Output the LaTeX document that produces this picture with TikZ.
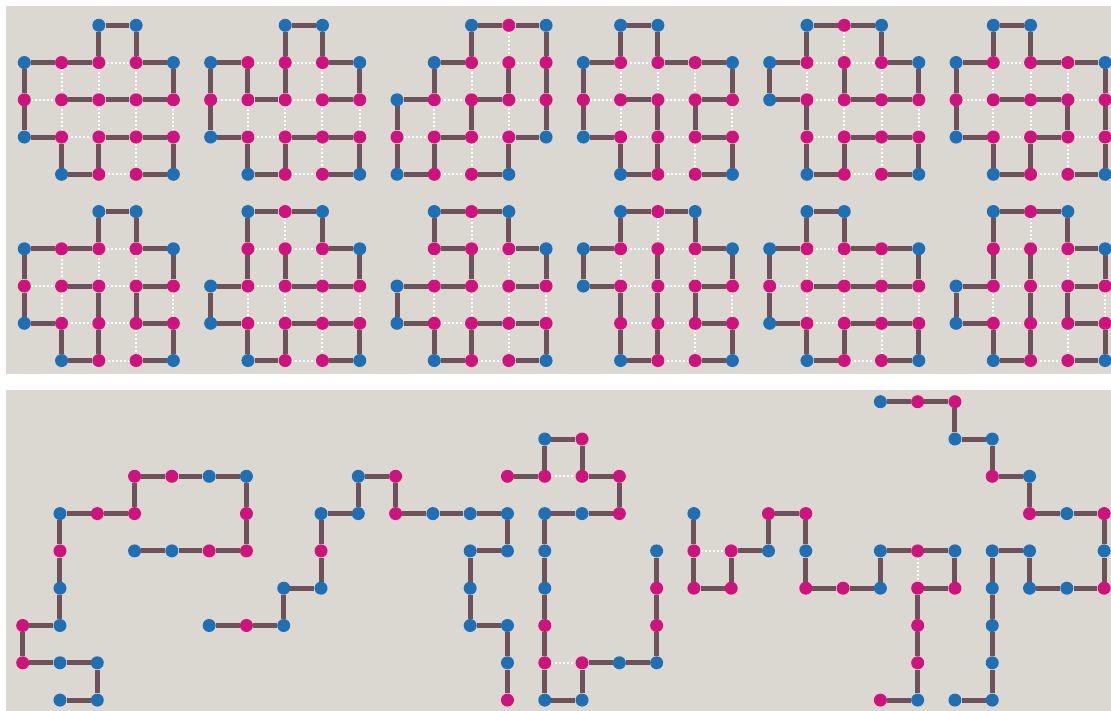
\documentclass[tikz,border=0pt]{standalone}
\usetikzlibrary{backgrounds}
\definecolor{cblue}{RGB}{31,111,181}
\definecolor{cmag}{RGB}{208,18,126}
\definecolor{cbrown}{RGB}{110,82,90}
\definecolor{cpanel}{RGB}{218,216,208}
\pgfdeclarelayer{panel}
\pgfdeclarelayer{dotl}
\pgfdeclarelayer{pathl}
\pgfsetlayers{panel,dotl,pathl,main}
\tikzset{
  dotb/.style={circle, fill=cblue, draw=none, minimum size=13pt, inner sep=0pt},
  dotm/.style={circle, fill=cmag, draw=none, minimum size=13pt, inner sep=0pt},
  pline/.style={draw=cbrown, line width=5pt},
  dotline/.style={draw=white, line width=2pt, dash pattern=on 2pt off 2pt},
}
% shapes: rows r/a/b (row r from col a to b), cols c/a/b (col c from row a to b)
\def\rowsA{0/2/3,1/0/4,2/0/4,3/0/4,4/1/4}
\def\colsA{0/1/3,1/1/4,2/0/4,3/0/4,4/1/4}
\def\rowsB{0/1/3,1/1/4,2/0/4,3/0/4,4/1/4}
\def\colsB{0/2/3,1/0/4,2/0/4,3/0/4,4/1/4}
\def\rowsC{0/2/4,1/1/4,2/0/4,3/0/4,4/0/3}
\def\colsC{0/2/4,1/1/4,2/0/4,3/0/4,4/0/3}
\def\rowsD{0/1/2,1/0/4,2/0/4,3/0/4,4/1/4}
\def\colsD{0/1/3,1/0/4,2/0/4,3/1/4,4/1/4}
\def\rowsE{0/1/3,1/0/4,2/0/4,3/1/4,4/1/4}
\def\colsE{0/1/2,1/0/4,2/0/4,3/0/4,4/1/4}
\newcommand\topfig[6]{%
  \foreach \i/\j/\c in {#4}{%
    \pgfmathsetmacro\px{24.3+37.27*(#2+\i)}%
    \pgfmathsetmacro\py{25.3+37.25*(#3+\j)}%
    \node[dot\c] (#1-\i-\j) at (\px,\py) {};
  }%
  \begin{pgfonlayer}{dotl}
    \foreach \r/\a/\b in #5 {\draw[dotline] (#1-\a-\r) -- (#1-\b-\r);}
    \foreach \q/\a/\b in #6 {\draw[dotline] (#1-\q-\a) -- (#1-\q-\b);}
  \end{pgfonlayer}
  \begin{pgfonlayer}{pathl}
    \foreach \i/\j/\c [count=\k, remember=\i as \pi (initially 0), remember=\j as \pj (initially 0)] in {#4}{%
      \ifnum\k>1 \draw[pline] (#1-\pi-\pj) -- (#1-\i-\j);\fi
    }
  \end{pgfonlayer}
}
\newcommand\botpath[2]{%
  \foreach \i/\j/\c in {#2}{%
    \pgfmathsetmacro\px{22.7+37.29*\i}%
    \pgfmathsetmacro\py{401.7+37.3*\j}%
    \node[dot\c] (#1-\i-\j) at (\px,\py) {};
  }%
  \begin{pgfonlayer}{pathl}
    \foreach \i/\j/\c [count=\k, remember=\i as \pi (initially 0), remember=\j as \pj (initially 0)] in {#2}{%
      \ifnum\k>1 \draw[pline] (#1-\pi-\pj) -- (#1-\i-\j);\fi
    }
  \end{pgfonlayer}
}
\begin{document}
\begin{tikzpicture}[x=1pt,y=-1pt]
\useasboundingbox (0,0) rectangle (1111,711);
\begin{pgfonlayer}{panel}
  \fill[white] (0,0) rectangle (1111,711);
  \fill[cpanel] (6,6) rectangle (1111,374);
  \fill[cpanel] (6,390) rectangle (1111,711);
\end{pgfonlayer}
% top row
\topfig{T1}{0}{0}{1/2/m,2/2/m,3/2/m,4/2/m,4/1/b,3/1/m,3/0/b,2/0/b,2/1/m,1/1/m,0/1/b,0/2/m,0/3/b,1/3/m,1/4/b,2/4/m,2/3/m,3/3/m,4/3/m,4/4/b,3/4/m}{\rowsA}{\colsA}
\topfig{T2}{5}{0}{3/2/m,4/2/m,4/1/b,3/1/m,3/0/b,2/0/b,2/1/m,2/2/m,1/2/m,1/1/m,0/1/b,0/2/m,0/3/b,1/3/m,1/4/b,2/4/m,2/3/m,3/3/m,4/3/m,4/4/b,3/4/m}{\rowsA}{\colsA}
\topfig{T3}{10}{0}{3/1/m,3/2/m,2/2/m,2/3/m,1/3/m,1/4/m,0/4/b,0/3/m,0/2/b,1/2/m,1/1/b,2/1/m,2/0/b,3/0/m,4/0/b,4/1/m,4/2/m,4/3/b,3/3/m,3/4/b,2/4/m}{\rowsC}{\colsC}
\topfig{T4}{15}{0}{1/2/m,2/2/m,2/3/m,2/4/m,1/4/b,1/3/m,0/3/b,0/2/m,0/1/b,1/1/m,1/0/b,2/0/b,2/1/m,3/1/m,4/1/b,4/2/m,3/2/m,3/3/m,4/3/m,4/4/b,3/4/m}{\rowsD}{\colsD}
\topfig{T5}{20}{0}{2/1/m,2/2/m,3/2/m,4/2/m,4/1/b,3/1/m,3/0/b,2/0/m,1/0/b,1/1/m,0/1/b,0/2/b,1/2/m,1/3/m,1/4/b,2/4/m,2/3/m,3/3/m,4/3/m,4/4/b,3/4/m}{\rowsE}{\colsE}
\topfig{T6}{25}{0}{1/2/m,2/2/m,3/2/m,3/3/m,2/3/m,2/4/m,1/4/b,1/3/m,0/3/b,0/2/m,0/1/b,1/1/m,1/0/b,2/0/b,2/1/m,3/1/m,4/1/b,4/2/m,4/3/m,4/4/b,3/4/m}{\rowsD}{\colsD}
% second row
\topfig{B1}{0}{5}{1/2/m,2/2/m,2/3/m,2/4/m,1/4/b,1/3/m,0/3/b,0/2/m,0/1/b,1/1/m,2/1/m,2/0/b,3/0/b,3/1/m,4/1/b,4/2/m,3/2/m,3/3/m,4/3/m,4/4/b,3/4/m}{\rowsA}{\colsA}
\topfig{B2}{5}{5}{2/1/m,2/2/m,3/2/m,4/2/m,4/1/b,3/1/m,3/0/b,2/0/m,1/0/b,1/1/m,1/2/m,0/2/b,0/3/b,1/3/m,1/4/b,2/4/m,2/3/m,3/3/m,4/3/m,4/4/b,3/4/m}{\rowsB}{\colsB}
\topfig{B3}{10}{5}{3/2/m,4/2/m,4/1/b,3/1/m,3/0/b,2/0/m,1/0/b,1/1/m,2/1/m,2/2/m,1/2/m,0/2/b,0/3/b,1/3/m,1/4/b,2/4/m,2/3/m,3/3/m,4/3/m,4/4/b,3/4/m}{\rowsB}{\colsB}
\topfig{B4}{15}{5}{2/1/m,2/2/m,2/3/m,2/4/m,1/4/b,1/3/m,1/2/m,0/2/b,0/1/b,1/1/m,1/0/b,2/0/m,3/0/b,3/1/m,4/1/b,4/2/m,3/2/m,3/3/m,4/3/m,4/4/b,3/4/m}{\rowsE}{\colsE}
\topfig{B5}{20}{5}{1/2/m,2/2/m,3/2/m,4/2/m,4/1/b,3/1/m,2/1/m,2/0/b,1/0/b,1/1/m,0/1/b,0/2/m,0/3/b,1/3/m,1/4/b,2/4/m,2/3/m,3/3/m,4/3/m,4/4/b,3/4/m}{\rowsD}{\colsD}
\topfig{B6}{25}{5}{2/1/m,2/2/m,2/3/m,2/4/m,1/4/b,1/3/m,0/3/b,0/2/b,1/2/m,1/1/m,1/0/b,2/0/m,3/0/b,3/1/m,4/1/b,4/2/m,3/2/m,3/3/m,4/3/m,4/4/b,3/4/m}{\rowsB}{\colsB}
% bottom panel
\botpath{P1}{1/8/b,2/8/b,2/7/b,1/7/b,0/7/m,0/6/m,1/6/b,1/5/b,1/4/m,1/3/b,2/3/m,3/3/m,3/2/m,4/2/m,5/2/b,6/2/b,6/3/m,6/4/m,5/4/m,4/4/b,3/4/b}
\botpath{P2}{5/6/b,6/6/m,7/6/b,7/5/b,8/5/b,8/4/m,8/3/b,9/3/b,9/2/b,10/2/m,10/3/m,11/3/b,12/3/b,13/3/b,13/4/b,12/4/b,12/5/b,12/6/b,13/6/b,13/7/b,13/8/m}
\botpath{P3}{13/2/m,14/2/m,14/1/b,15/1/m,15/2/m,16/2/m,16/3/m,15/3/b,14/3/b,14/4/b,14/5/b,14/6/m,14/7/m,14/8/b,15/8/b,15/7/m,16/7/b,17/7/b,17/6/m,17/5/m,17/4/b}
\botpath{P4}{18/3/b,18/4/m,18/5/m,19/5/m,19/4/m,20/4/b,20/3/m,21/3/m,21/4/b,21/5/m,22/5/m,23/5/b,23/4/b,24/4/m,25/4/b,25/5/m,24/5/m,24/6/m,24/7/m,24/8/b,23/8/m}
\botpath{P5}{25/8/b,26/8/b,26/7/b,26/6/b,26/5/b,26/4/b,27/4/b,27/5/b,28/5/b,29/5/m,29/4/b,29/3/m,28/3/b,27/3/m,27/2/b,26/2/m,26/1/b,25/1/b,25/0/m,24/0/m,23/0/b}
\begin{pgfonlayer}{dotl}
  \draw[dotline] (P3-14-2) -- (P3-15-2);
  \draw[dotline] (P3-14-7) -- (P3-15-7);
  \draw[dotline] (P4-18-4) -- (P4-19-4);
  \draw[dotline] (P4-24-4) -- (P4-24-5);
\end{pgfonlayer}
\end{tikzpicture}
\end{document}
